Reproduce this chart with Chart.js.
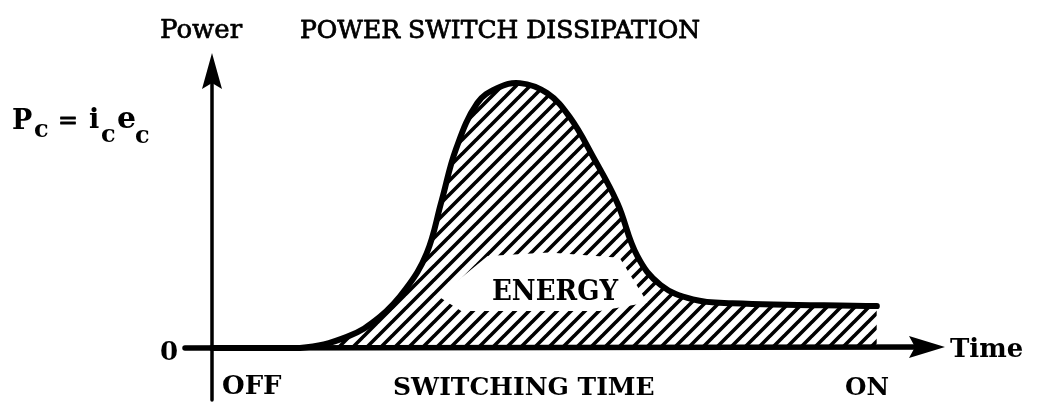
<!DOCTYPE html>
<html>
<head>
<meta charset="utf-8">
<script src="https://cdn.jsdelivr.net/npm/chart.js@4.4.1/dist/chart.umd.min.js"></script>
<style>
  html, body { margin: 0; padding: 0; background: #fff; }
  canvas { display: block; }
</style>
</head>
<body>
<canvas id="powerChart" width="1040" height="404"></canvas>
<script>
// switching-time curve (time and power in arbitrary units 0..100)
const timeValues = [0, 12, 18.4, 22.9, 26.4, 29.3, 31.3, 33.3, 36.2, 38.9, 42.0, 45.7, 48.8, 52.0, 55.3, 58.0, 61.2, 65.6, 71, 90.7];
const powerValues = [0, 0, 3.8, 10.6, 20.0, 32.4, 50, 68, 83.6, 88.7, 90.4, 87.0, 78.8, 65.2, 49.5, 31.5, 21.5, 16.6, 15.3, 14.3];

const chartTitle = "POWER SWITCH DISSIPATION";
const yAxisLabel = "Power";
const xAxisLabel = "Time";
const zeroLabel = "0";
const xTickLabels = ["OFF", "SWITCHING TIME", "ON"];
const areaLabel = "ENERGY";

const serif = "'DejaVu Serif', 'Liberation Serif', serif";

// diagonal hatch for the energy area
function makeHatch() {
  const s = 14;
  const c = document.createElement("canvas");
  c.width = s;
  c.height = s;
  const g = c.getContext("2d");
  g.strokeStyle = "#000";
  g.lineWidth = 3.6;
  g.beginPath();
  for (let k = -1; k <= 1; k++) {
    g.moveTo(-1, s + 1 + k * s);
    g.lineTo(s + 1, -1 + k * s);
  }
  g.stroke();
  return g.createPattern(c, "repeat");
}

const points = timeValues.map((t, i) => ({ x: t, y: powerValues[i] }));

// white clearing around the ENERGY word, in data units
const clearing = [[30.9, 17.6], [37.6, 31.4], [46, 32.6], [55.6, 30.8], [59.4, 15.5], [52.9, 12.6], [34, 12.6]];

function arrow(ctx, tipX, tipY, dir, len, half) {
  ctx.beginPath();
  if (dir === "up") {
    ctx.moveTo(tipX, tipY);
    ctx.lineTo(tipX + half, tipY + len);
    ctx.lineTo(tipX, tipY + len - 6);
    ctx.lineTo(tipX - half, tipY + len);
  } else {
    ctx.moveTo(tipX, tipY);
    ctx.lineTo(tipX - len, tipY - half);
    ctx.lineTo(tipX - len + 6, tipY);
    ctx.lineTo(tipX - len, tipY + half);
  }
  ctx.closePath();
  ctx.fill();
}

// fill and then a thin stroke, to get the heavy print look of the original
function heavyText(ctx, text, px, py, maxW, w) {
  ctx.fillText(text, px, py, maxW);
  ctx.lineWidth = w;
  ctx.strokeText(text, px, py, maxW);
}

const diagram = {
  id: "diagram",
  afterDatasetsDraw(chart) {
    const { ctx } = chart;
    const x = chart.scales.x;
    const y = chart.scales.y;
    const x0 = x.getPixelForValue(0);
    const y0 = y.getPixelForValue(0);
    const xEnd = x.getPixelForValue(100);
    const yTop = y.getPixelForValue(100);

    ctx.save();
    // clearing
    ctx.fillStyle = "#fff";
    ctx.beginPath();
    clearing.forEach(([t, p], i) => {
      const px = x.getPixelForValue(t);
      const py = y.getPixelForValue(p);
      if (i === 0) ctx.moveTo(px, py);
      else ctx.lineTo(px, py);
    });
    ctx.closePath();
    ctx.fill();

    // axes
    ctx.strokeStyle = "#000";
    ctx.fillStyle = "#000";
    ctx.lineCap = "round";
    ctx.lineWidth = 3.5;
    ctx.beginPath();
    ctx.moveTo(x0, y0 + 52);
    ctx.lineTo(x0, yTop + 20);
    ctx.stroke();
    arrow(ctx, x0, yTop - 2, "up", 36, 10);

    ctx.lineWidth = 5.5;
    ctx.beginPath();
    ctx.moveTo(x0 - 27, y0);
    ctx.lineTo(xEnd - 20, y0 - 1);
    ctx.stroke();
    arrow(ctx, xEnd, y0 - 1, "right", 36, 11);

    // texts
    ctx.lineJoin = "round";
    ctx.textBaseline = "alphabetic";
    ctx.textAlign = "left";
    ctx.font = "25px " + serif;
    heavyText(ctx, chartTitle, 300, 38, 452, 0.8);
    ctx.font = "26px " + serif;
    heavyText(ctx, yAxisLabel, 160, 38, 88, 0.7);

    ctx.font = "bold 26px " + serif;
    ctx.fillText(xAxisLabel, 950, 357, 82);
    ctx.textAlign = "center";
    ctx.fillText(zeroLabel, 169, 360);
    ctx.textAlign = "left";
    ctx.fillText(xTickLabels[0], 222, 394, 64);
    ctx.font = "bold 25px " + serif;
    ctx.fillText(xTickLabels[1], 393, 395, 265);
    ctx.fillText(xTickLabels[2], 845, 395, 44);

    ctx.textAlign = "center";
    ctx.font = "bold 27px " + serif;
    ctx.fillText(areaLabel, 555, 300, 126);

    // P_c = i_c e_c
    ctx.textAlign = "left";
    const big = "bold 27px " + serif;
    const sub = "bold 24px " + serif;
    ctx.font = big; ctx.fillText("P", 12, 129);
    ctx.font = sub; ctx.fillText("c", 34, 137);
    ctx.font = "26px " + serif; heavyText(ctx, "=", 58, 129, 20, 0.8);
    ctx.font = big; ctx.fillText("i", 89, 128);
    ctx.font = sub; ctx.fillText("c", 101, 142);
    ctx.font = "bold 30px " + serif; ctx.fillText("e", 117, 128);
    ctx.font = sub; ctx.fillText("c", 135, 143);
    ctx.restore();
  },
};

new Chart(document.getElementById("powerChart"), {
  type: "line",
  data: {
    datasets: [
      {
        label: "Power",
        data: points,
        borderColor: "#000",
        borderWidth: 6,
        borderCapStyle: "round",
        borderJoinStyle: "round",
        backgroundColor: makeHatch(),
        fill: "origin",
        pointRadius: 0,
        tension: 0.4,
        clip: false,
      },
    ],
  },
  options: {
    responsive: false,
    animation: false,
    layout: { padding: { left: 212, right: 95, top: 55, bottom: 56 } },
    plugins: {
      legend: { display: false },
      tooltip: { enabled: false },
      title: { display: false },
    },
    scales: {
      x: { type: "linear", min: 0, max: 100, display: false },
      y: { min: 0, max: 100, display: false },
    },
  },
  plugins: [diagram],
});
</script>
</body>
</html>
